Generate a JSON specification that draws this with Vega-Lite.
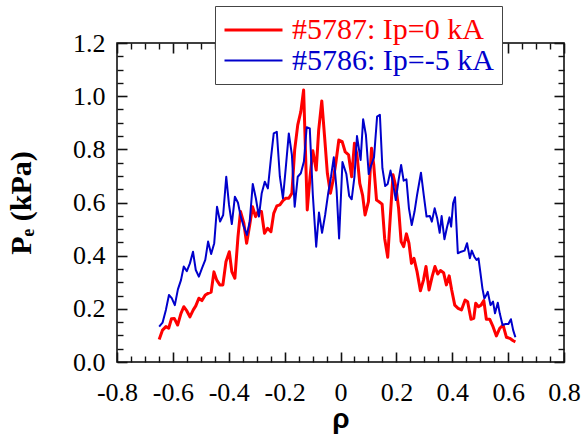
{
  "$schema": "https://vega.github.io/schema/vega-lite/v6.json",
  "width": 447,
  "height": 319,
  "autosize": "none",
  "padding": {"left": 117, "top": 43, "right": 23, "bottom": 72},
  "background": "white",
  "config": {
    "view": {"stroke": "#000000", "strokeWidth": 1.5},
    "font": "Liberation Serif"
  },
  "datasets": {
    "profiles": [
      {"shot": "#5787: Ip=0 kA", "rho": -0.649, "pe": 0.085},
      {"shot": "#5787: Ip=0 kA", "rho": -0.637, "pe": 0.12},
      {"shot": "#5787: Ip=0 kA", "rho": -0.625, "pe": 0.133},
      {"shot": "#5787: Ip=0 kA", "rho": -0.615, "pe": 0.127},
      {"shot": "#5787: Ip=0 kA", "rho": -0.605, "pe": 0.163},
      {"shot": "#5787: Ip=0 kA", "rho": -0.595, "pe": 0.164},
      {"shot": "#5787: Ip=0 kA", "rho": -0.583, "pe": 0.139},
      {"shot": "#5787: Ip=0 kA", "rho": -0.571, "pe": 0.183},
      {"shot": "#5787: Ip=0 kA", "rho": -0.561, "pe": 0.208},
      {"shot": "#5787: Ip=0 kA", "rho": -0.55, "pe": 0.192},
      {"shot": "#5787: Ip=0 kA", "rho": -0.539, "pe": 0.17},
      {"shot": "#5787: Ip=0 kA", "rho": -0.527, "pe": 0.196},
      {"shot": "#5787: Ip=0 kA", "rho": -0.518, "pe": 0.211},
      {"shot": "#5787: Ip=0 kA", "rho": -0.507, "pe": 0.24},
      {"shot": "#5787: Ip=0 kA", "rho": -0.496, "pe": 0.231},
      {"shot": "#5787: Ip=0 kA", "rho": -0.484, "pe": 0.252},
      {"shot": "#5787: Ip=0 kA", "rho": -0.474, "pe": 0.258},
      {"shot": "#5787: Ip=0 kA", "rho": -0.463, "pe": 0.263},
      {"shot": "#5787: Ip=0 kA", "rho": -0.453, "pe": 0.339},
      {"shot": "#5787: Ip=0 kA", "rho": -0.443, "pe": 0.308},
      {"shot": "#5787: Ip=0 kA", "rho": -0.432, "pe": 0.29},
      {"shot": "#5787: Ip=0 kA", "rho": -0.421, "pe": 0.29},
      {"shot": "#5787: Ip=0 kA", "rho": -0.41, "pe": 0.377},
      {"shot": "#5787: Ip=0 kA", "rho": -0.398, "pe": 0.415},
      {"shot": "#5787: Ip=0 kA", "rho": -0.389, "pe": 0.34},
      {"shot": "#5787: Ip=0 kA", "rho": -0.378, "pe": 0.315},
      {"shot": "#5787: Ip=0 kA", "rho": -0.367, "pe": 0.471},
      {"shot": "#5787: Ip=0 kA", "rho": -0.358, "pe": 0.566},
      {"shot": "#5787: Ip=0 kA", "rho": -0.346, "pe": 0.522},
      {"shot": "#5787: Ip=0 kA", "rho": -0.336, "pe": 0.447},
      {"shot": "#5787: Ip=0 kA", "rho": -0.325, "pe": 0.515},
      {"shot": "#5787: Ip=0 kA", "rho": -0.315, "pe": 0.584},
      {"shot": "#5787: Ip=0 kA", "rho": -0.304, "pe": 0.547},
      {"shot": "#5787: Ip=0 kA", "rho": -0.295, "pe": 0.566},
      {"shot": "#5787: Ip=0 kA", "rho": -0.283, "pe": 0.566},
      {"shot": "#5787: Ip=0 kA", "rho": -0.272, "pe": 0.484},
      {"shot": "#5787: Ip=0 kA", "rho": -0.261, "pe": 0.503},
      {"shot": "#5787: Ip=0 kA", "rho": -0.249, "pe": 0.49},
      {"shot": "#5787: Ip=0 kA", "rho": -0.239, "pe": 0.559},
      {"shot": "#5787: Ip=0 kA", "rho": -0.228, "pe": 0.587},
      {"shot": "#5787: Ip=0 kA", "rho": -0.217, "pe": 0.591},
      {"shot": "#5787: Ip=0 kA", "rho": -0.206, "pe": 0.607},
      {"shot": "#5787: Ip=0 kA", "rho": -0.196, "pe": 0.616},
      {"shot": "#5787: Ip=0 kA", "rho": -0.185, "pe": 0.616},
      {"shot": "#5787: Ip=0 kA", "rho": -0.174, "pe": 0.635},
      {"shot": "#5787: Ip=0 kA", "rho": -0.164, "pe": 0.798},
      {"shot": "#5787: Ip=0 kA", "rho": -0.153, "pe": 0.892},
      {"shot": "#5787: Ip=0 kA", "rho": -0.142, "pe": 0.942},
      {"shot": "#5787: Ip=0 kA", "rho": -0.132, "pe": 1.023},
      {"shot": "#5787: Ip=0 kA", "rho": -0.119, "pe": 0.572},
      {"shot": "#5787: Ip=0 kA", "rho": -0.109, "pe": 0.697},
      {"shot": "#5787: Ip=0 kA", "rho": -0.099, "pe": 0.795},
      {"shot": "#5787: Ip=0 kA", "rho": -0.087, "pe": 0.722},
      {"shot": "#5787: Ip=0 kA", "rho": -0.078, "pe": 0.873},
      {"shot": "#5787: Ip=0 kA", "rho": -0.067, "pe": 0.982},
      {"shot": "#5787: Ip=0 kA", "rho": -0.057, "pe": 0.848},
      {"shot": "#5787: Ip=0 kA", "rho": -0.047, "pe": 0.71},
      {"shot": "#5787: Ip=0 kA", "rho": -0.036, "pe": 0.635},
      {"shot": "#5787: Ip=0 kA", "rho": -0.025, "pe": 0.691},
      {"shot": "#5787: Ip=0 kA", "rho": -0.016, "pe": 0.754},
      {"shot": "#5787: Ip=0 kA", "rho": -0.006, "pe": 0.835},
      {"shot": "#5787: Ip=0 kA", "rho": 0.006, "pe": 0.829},
      {"shot": "#5787: Ip=0 kA", "rho": 0.017, "pe": 0.79},
      {"shot": "#5787: Ip=0 kA", "rho": 0.029, "pe": 0.779},
      {"shot": "#5787: Ip=0 kA", "rho": 0.04, "pe": 0.697},
      {"shot": "#5787: Ip=0 kA", "rho": 0.05, "pe": 0.823},
      {"shot": "#5787: Ip=0 kA", "rho": 0.059, "pe": 0.779},
      {"shot": "#5787: Ip=0 kA", "rho": 0.069, "pe": 0.672},
      {"shot": "#5787: Ip=0 kA", "rho": 0.079, "pe": 0.628},
      {"shot": "#5787: Ip=0 kA", "rho": 0.088, "pe": 0.553},
      {"shot": "#5787: Ip=0 kA", "rho": 0.1, "pe": 0.603},
      {"shot": "#5787: Ip=0 kA", "rho": 0.111, "pe": 0.804},
      {"shot": "#5787: Ip=0 kA", "rho": 0.119, "pe": 0.741},
      {"shot": "#5787: Ip=0 kA", "rho": 0.129, "pe": 0.609},
      {"shot": "#5787: Ip=0 kA", "rho": 0.138, "pe": 0.603},
      {"shot": "#5787: Ip=0 kA", "rho": 0.149, "pe": 0.594},
      {"shot": "#5787: Ip=0 kA", "rho": 0.158, "pe": 0.465},
      {"shot": "#5787: Ip=0 kA", "rho": 0.169, "pe": 0.394},
      {"shot": "#5787: Ip=0 kA", "rho": 0.179, "pe": 0.559},
      {"shot": "#5787: Ip=0 kA", "rho": 0.188, "pe": 0.704},
      {"shot": "#5787: Ip=0 kA", "rho": 0.198, "pe": 0.66},
      {"shot": "#5787: Ip=0 kA", "rho": 0.208, "pe": 0.578},
      {"shot": "#5787: Ip=0 kA", "rho": 0.217, "pe": 0.453},
      {"shot": "#5787: Ip=0 kA", "rho": 0.226, "pe": 0.434},
      {"shot": "#5787: Ip=0 kA", "rho": 0.236, "pe": 0.482},
      {"shot": "#5787: Ip=0 kA", "rho": 0.245, "pe": 0.447},
      {"shot": "#5787: Ip=0 kA", "rho": 0.254, "pe": 0.371},
      {"shot": "#5787: Ip=0 kA", "rho": 0.263, "pe": 0.39},
      {"shot": "#5787: Ip=0 kA", "rho": 0.274, "pe": 0.34},
      {"shot": "#5787: Ip=0 kA", "rho": 0.286, "pe": 0.268},
      {"shot": "#5787: Ip=0 kA", "rho": 0.297, "pe": 0.308},
      {"shot": "#5787: Ip=0 kA", "rho": 0.306, "pe": 0.359},
      {"shot": "#5787: Ip=0 kA", "rho": 0.317, "pe": 0.271},
      {"shot": "#5787: Ip=0 kA", "rho": 0.328, "pe": 0.321},
      {"shot": "#5787: Ip=0 kA", "rho": 0.338, "pe": 0.359},
      {"shot": "#5787: Ip=0 kA", "rho": 0.348, "pe": 0.331},
      {"shot": "#5787: Ip=0 kA", "rho": 0.358, "pe": 0.344},
      {"shot": "#5787: Ip=0 kA", "rho": 0.369, "pe": 0.336},
      {"shot": "#5787: Ip=0 kA", "rho": 0.379, "pe": 0.29},
      {"shot": "#5787: Ip=0 kA", "rho": 0.389, "pe": 0.324},
      {"shot": "#5787: Ip=0 kA", "rho": 0.398, "pe": 0.271},
      {"shot": "#5787: Ip=0 kA", "rho": 0.409, "pe": 0.214},
      {"shot": "#5787: Ip=0 kA", "rho": 0.421, "pe": 0.202},
      {"shot": "#5787: Ip=0 kA", "rho": 0.433, "pe": 0.196},
      {"shot": "#5787: Ip=0 kA", "rho": 0.446, "pe": 0.233},
      {"shot": "#5787: Ip=0 kA", "rho": 0.455, "pe": 0.227},
      {"shot": "#5787: Ip=0 kA", "rho": 0.467, "pe": 0.161},
      {"shot": "#5787: Ip=0 kA", "rho": 0.477, "pe": 0.164},
      {"shot": "#5787: Ip=0 kA", "rho": 0.484, "pe": 0.221},
      {"shot": "#5787: Ip=0 kA", "rho": 0.494, "pe": 0.208},
      {"shot": "#5787: Ip=0 kA", "rho": 0.503, "pe": 0.214},
      {"shot": "#5787: Ip=0 kA", "rho": 0.513, "pe": 0.231},
      {"shot": "#5787: Ip=0 kA", "rho": 0.522, "pe": 0.161},
      {"shot": "#5787: Ip=0 kA", "rho": 0.534, "pe": 0.161},
      {"shot": "#5787: Ip=0 kA", "rho": 0.546, "pe": 0.133},
      {"shot": "#5787: Ip=0 kA", "rho": 0.558, "pe": 0.098},
      {"shot": "#5787: Ip=0 kA", "rho": 0.57, "pe": 0.127},
      {"shot": "#5787: Ip=0 kA", "rho": 0.582, "pe": 0.139},
      {"shot": "#5787: Ip=0 kA", "rho": 0.594, "pe": 0.093},
      {"shot": "#5787: Ip=0 kA", "rho": 0.606, "pe": 0.089},
      {"shot": "#5787: Ip=0 kA", "rho": 0.618, "pe": 0.08},
      {"shot": "#5787: Ip=0 kA", "rho": 0.626, "pe": 0.076},
      {"shot": "#5786: Ip=-5 kA", "rho": -0.649, "pe": 0.133},
      {"shot": "#5786: Ip=-5 kA", "rho": -0.637, "pe": 0.148},
      {"shot": "#5786: Ip=-5 kA", "rho": -0.625, "pe": 0.196},
      {"shot": "#5786: Ip=-5 kA", "rho": -0.614, "pe": 0.252},
      {"shot": "#5786: Ip=-5 kA", "rho": -0.604, "pe": 0.24},
      {"shot": "#5786: Ip=-5 kA", "rho": -0.593, "pe": 0.214},
      {"shot": "#5786: Ip=-5 kA", "rho": -0.582, "pe": 0.273},
      {"shot": "#5786: Ip=-5 kA", "rho": -0.571, "pe": 0.308},
      {"shot": "#5786: Ip=-5 kA", "rho": -0.561, "pe": 0.359},
      {"shot": "#5786: Ip=-5 kA", "rho": -0.55, "pe": 0.342},
      {"shot": "#5786: Ip=-5 kA", "rho": -0.539, "pe": 0.371},
      {"shot": "#5786: Ip=-5 kA", "rho": -0.528, "pe": 0.415},
      {"shot": "#5786: Ip=-5 kA", "rho": -0.518, "pe": 0.346},
      {"shot": "#5786: Ip=-5 kA", "rho": -0.507, "pe": 0.321},
      {"shot": "#5786: Ip=-5 kA", "rho": -0.496, "pe": 0.352},
      {"shot": "#5786: Ip=-5 kA", "rho": -0.484, "pe": 0.384},
      {"shot": "#5786: Ip=-5 kA", "rho": -0.474, "pe": 0.453},
      {"shot": "#5786: Ip=-5 kA", "rho": -0.463, "pe": 0.406},
      {"shot": "#5786: Ip=-5 kA", "rho": -0.452, "pe": 0.447},
      {"shot": "#5786: Ip=-5 kA", "rho": -0.442, "pe": 0.584},
      {"shot": "#5786: Ip=-5 kA", "rho": -0.431, "pe": 0.528},
      {"shot": "#5786: Ip=-5 kA", "rho": -0.42, "pe": 0.553},
      {"shot": "#5786: Ip=-5 kA", "rho": -0.409, "pe": 0.697},
      {"shot": "#5786: Ip=-5 kA", "rho": -0.399, "pe": 0.591},
      {"shot": "#5786: Ip=-5 kA", "rho": -0.389, "pe": 0.519},
      {"shot": "#5786: Ip=-5 kA", "rho": -0.378, "pe": 0.622},
      {"shot": "#5786: Ip=-5 kA", "rho": -0.367, "pe": 0.599},
      {"shot": "#5786: Ip=-5 kA", "rho": -0.357, "pe": 0.547},
      {"shot": "#5786: Ip=-5 kA", "rho": -0.346, "pe": 0.509},
      {"shot": "#5786: Ip=-5 kA", "rho": -0.335, "pe": 0.478},
      {"shot": "#5786: Ip=-5 kA", "rho": -0.325, "pe": 0.528},
      {"shot": "#5786: Ip=-5 kA", "rho": -0.314, "pe": 0.67},
      {"shot": "#5786: Ip=-5 kA", "rho": -0.303, "pe": 0.616},
      {"shot": "#5786: Ip=-5 kA", "rho": -0.292, "pe": 0.547},
      {"shot": "#5786: Ip=-5 kA", "rho": -0.282, "pe": 0.635},
      {"shot": "#5786: Ip=-5 kA", "rho": -0.271, "pe": 0.678},
      {"shot": "#5786: Ip=-5 kA", "rho": -0.26, "pe": 0.653},
      {"shot": "#5786: Ip=-5 kA", "rho": -0.249, "pe": 0.766},
      {"shot": "#5786: Ip=-5 kA", "rho": -0.239, "pe": 0.86},
      {"shot": "#5786: Ip=-5 kA", "rho": -0.228, "pe": 0.866},
      {"shot": "#5786: Ip=-5 kA", "rho": -0.217, "pe": 0.697},
      {"shot": "#5786: Ip=-5 kA", "rho": -0.206, "pe": 0.616},
      {"shot": "#5786: Ip=-5 kA", "rho": -0.196, "pe": 0.729},
      {"shot": "#5786: Ip=-5 kA", "rho": -0.185, "pe": 0.86},
      {"shot": "#5786: Ip=-5 kA", "rho": -0.174, "pe": 0.779},
      {"shot": "#5786: Ip=-5 kA", "rho": -0.164, "pe": 0.584},
      {"shot": "#5786: Ip=-5 kA", "rho": -0.153, "pe": 0.697},
      {"shot": "#5786: Ip=-5 kA", "rho": -0.142, "pe": 0.71},
      {"shot": "#5786: Ip=-5 kA", "rho": -0.131, "pe": 0.754},
      {"shot": "#5786: Ip=-5 kA", "rho": -0.121, "pe": 0.883},
      {"shot": "#5786: Ip=-5 kA", "rho": -0.11, "pe": 0.879},
      {"shot": "#5786: Ip=-5 kA", "rho": -0.099, "pe": 0.628},
      {"shot": "#5786: Ip=-5 kA", "rho": -0.087, "pe": 0.434},
      {"shot": "#5786: Ip=-5 kA", "rho": -0.077, "pe": 0.562},
      {"shot": "#5786: Ip=-5 kA", "rho": -0.066, "pe": 0.486},
      {"shot": "#5786: Ip=-5 kA", "rho": -0.055, "pe": 0.553},
      {"shot": "#5786: Ip=-5 kA", "rho": -0.044, "pe": 0.635},
      {"shot": "#5786: Ip=-5 kA", "rho": -0.034, "pe": 0.697},
      {"shot": "#5786: Ip=-5 kA", "rho": -0.024, "pe": 0.77},
      {"shot": "#5786: Ip=-5 kA", "rho": -0.014, "pe": 0.647},
      {"shot": "#5786: Ip=-5 kA", "rho": -0.005, "pe": 0.465},
      {"shot": "#5786: Ip=-5 kA", "rho": 0.007, "pe": 0.752},
      {"shot": "#5786: Ip=-5 kA", "rho": 0.021, "pe": 0.707},
      {"shot": "#5786: Ip=-5 kA", "rho": 0.031, "pe": 0.625},
      {"shot": "#5786: Ip=-5 kA", "rho": 0.04, "pe": 0.612},
      {"shot": "#5786: Ip=-5 kA", "rho": 0.05, "pe": 0.697},
      {"shot": "#5786: Ip=-5 kA", "rho": 0.059, "pe": 0.85},
      {"shot": "#5786: Ip=-5 kA", "rho": 0.072, "pe": 0.76},
      {"shot": "#5786: Ip=-5 kA", "rho": 0.081, "pe": 0.913},
      {"shot": "#5786: Ip=-5 kA", "rho": 0.091, "pe": 0.854},
      {"shot": "#5786: Ip=-5 kA", "rho": 0.101, "pe": 0.707},
      {"shot": "#5786: Ip=-5 kA", "rho": 0.11, "pe": 0.741},
      {"shot": "#5786: Ip=-5 kA", "rho": 0.12, "pe": 0.77},
      {"shot": "#5786: Ip=-5 kA", "rho": 0.131, "pe": 0.923},
      {"shot": "#5786: Ip=-5 kA", "rho": 0.141, "pe": 0.93},
      {"shot": "#5786: Ip=-5 kA", "rho": 0.15, "pe": 0.729},
      {"shot": "#5786: Ip=-5 kA", "rho": 0.16, "pe": 0.662},
      {"shot": "#5786: Ip=-5 kA", "rho": 0.169, "pe": 0.67},
      {"shot": "#5786: Ip=-5 kA", "rho": 0.179, "pe": 0.72},
      {"shot": "#5786: Ip=-5 kA", "rho": 0.188, "pe": 0.672},
      {"shot": "#5786: Ip=-5 kA", "rho": 0.198, "pe": 0.609},
      {"shot": "#5786: Ip=-5 kA", "rho": 0.208, "pe": 0.685},
      {"shot": "#5786: Ip=-5 kA", "rho": 0.217, "pe": 0.741},
      {"shot": "#5786: Ip=-5 kA", "rho": 0.226, "pe": 0.682},
      {"shot": "#5786: Ip=-5 kA", "rho": 0.236, "pe": 0.687},
      {"shot": "#5786: Ip=-5 kA", "rho": 0.245, "pe": 0.578},
      {"shot": "#5786: Ip=-5 kA", "rho": 0.255, "pe": 0.515},
      {"shot": "#5786: Ip=-5 kA", "rho": 0.265, "pe": 0.566},
      {"shot": "#5786: Ip=-5 kA", "rho": 0.274, "pe": 0.628},
      {"shot": "#5786: Ip=-5 kA", "rho": 0.288, "pe": 0.712},
      {"shot": "#5786: Ip=-5 kA", "rho": 0.298, "pe": 0.628},
      {"shot": "#5786: Ip=-5 kA", "rho": 0.308, "pe": 0.547},
      {"shot": "#5786: Ip=-5 kA", "rho": 0.32, "pe": 0.549},
      {"shot": "#5786: Ip=-5 kA", "rho": 0.327, "pe": 0.528},
      {"shot": "#5786: Ip=-5 kA", "rho": 0.337, "pe": 0.578},
      {"shot": "#5786: Ip=-5 kA", "rho": 0.346, "pe": 0.541},
      {"shot": "#5786: Ip=-5 kA", "rho": 0.355, "pe": 0.486},
      {"shot": "#5786: Ip=-5 kA", "rho": 0.362, "pe": 0.549},
      {"shot": "#5786: Ip=-5 kA", "rho": 0.372, "pe": 0.462},
      {"shot": "#5786: Ip=-5 kA", "rho": 0.381, "pe": 0.506},
      {"shot": "#5786: Ip=-5 kA", "rho": 0.39, "pe": 0.544},
      {"shot": "#5786: Ip=-5 kA", "rho": 0.396, "pe": 0.509},
      {"shot": "#5786: Ip=-5 kA", "rho": 0.403, "pe": 0.597},
      {"shot": "#5786: Ip=-5 kA", "rho": 0.41, "pe": 0.62},
      {"shot": "#5786: Ip=-5 kA", "rho": 0.42, "pe": 0.409},
      {"shot": "#5786: Ip=-5 kA", "rho": 0.432, "pe": 0.415},
      {"shot": "#5786: Ip=-5 kA", "rho": 0.444, "pe": 0.419},
      {"shot": "#5786: Ip=-5 kA", "rho": 0.453, "pe": 0.447},
      {"shot": "#5786: Ip=-5 kA", "rho": 0.463, "pe": 0.39},
      {"shot": "#5786: Ip=-5 kA", "rho": 0.47, "pe": 0.419},
      {"shot": "#5786: Ip=-5 kA", "rho": 0.479, "pe": 0.396},
      {"shot": "#5786: Ip=-5 kA", "rho": 0.487, "pe": 0.384},
      {"shot": "#5786: Ip=-5 kA", "rho": 0.494, "pe": 0.39},
      {"shot": "#5786: Ip=-5 kA", "rho": 0.501, "pe": 0.334},
      {"shot": "#5786: Ip=-5 kA", "rho": 0.508, "pe": 0.277},
      {"shot": "#5786: Ip=-5 kA", "rho": 0.515, "pe": 0.239},
      {"shot": "#5786: Ip=-5 kA", "rho": 0.52, "pe": 0.248},
      {"shot": "#5786: Ip=-5 kA", "rho": 0.527, "pe": 0.264},
      {"shot": "#5786: Ip=-5 kA", "rho": 0.537, "pe": 0.214},
      {"shot": "#5786: Ip=-5 kA", "rho": 0.546, "pe": 0.227},
      {"shot": "#5786: Ip=-5 kA", "rho": 0.553, "pe": 0.183},
      {"shot": "#5786: Ip=-5 kA", "rho": 0.563, "pe": 0.223},
      {"shot": "#5786: Ip=-5 kA", "rho": 0.57, "pe": 0.183},
      {"shot": "#5786: Ip=-5 kA", "rho": 0.58, "pe": 0.139},
      {"shot": "#5786: Ip=-5 kA", "rho": 0.591, "pe": 0.143},
      {"shot": "#5786: Ip=-5 kA", "rho": 0.601, "pe": 0.143},
      {"shot": "#5786: Ip=-5 kA", "rho": 0.61, "pe": 0.161},
      {"shot": "#5786: Ip=-5 kA", "rho": 0.618, "pe": 0.12},
      {"shot": "#5786: Ip=-5 kA", "rho": 0.626, "pe": 0.093}
    ]
  },
  "data": {"name": "profiles"},
  "layer": [
    {
      "mark": {"type": "line", "strokeJoin": "round"},
      "encoding": {
        "x": {
          "field": "rho", "type": "quantitative",
          "scale": {"domain": [-0.8, 0.8], "nice": false, "zero": false},
          "axis": {
            "orient": "bottom",
            "values": [-0.8, -0.6, -0.4, -0.2, 0, 0.2, 0.4, 0.6, 0.8],
            "domain": false, "grid": false, "zindex": 3,
            "offset": -10,
            "ticks": true, "tickSize": 10, "tickColor": "#111111", "tickWidth": 1.6, "tickOpacity": 1,
            "labelFont": "Liberation Serif", "labelFontSize": 26, "labelColor": "#000000",
            "labelPadding": 17,
            "labelFlush": false,
            "labelOverlap": false,
            "labelExpr": "datum.value == 0 ? '0' : (datum.value < 0 ? '-' : '') + format(abs(datum.value), '.1f')",
            "title": "ρ",
            "titleFont": "Liberation Sans",
            "titleFontWeight": "bold",
            "titleFontSize": 28,
            "titleColor": "#000000",
            "titlePadding": 0
          }
        },
        "y": {
          "field": "pe", "type": "quantitative",
          "scale": {"domain": [0, 1.2], "nice": false, "zero": false},
          "axis": {
            "orient": "left",
            "values": [0, 0.2, 0.4, 0.6, 0.8, 1.0, 1.2],
            "domain": false, "grid": false, "zindex": 3,
            "ticks": true, "tickSize": -10, "tickColor": "#111111", "tickWidth": 1.6, "tickOpacity": 1,
            "labelFont": "Liberation Serif", "labelFontSize": 26, "labelColor": "#000000",
            "labelPadding": 22,
            "labelFlush": false,
            "labelOverlap": false,
            "format": ".1f",
            "title": "Pₑ (kPa)",
            "titleFont": "Liberation Serif",
            "titleFontWeight": "bold",
            "titleFontSize": 30,
            "titleColor": "#000000",
            "titlePadding": 36
          }
        },
        "color": {
          "field": "shot", "type": "nominal", "sort": null,
          "scale": {"domain": ["#5787: Ip=0 kA", "#5786: Ip=-5 kA"], "range": ["#ff0000", "#0000cc"]},
          "legend": {
            "orient": "none",
            "legendX": 98,
            "legendY": -37,
            "zindex": 6,
            "title": null,
            "padding": 8,
            "fillColor": "#ffffff",
            "strokeColor": "#444444",
            "symbolType": "M-1,0H3",
            "symbolSize": 841,
            "labelFont": "Liberation Serif",
            "labelFontSize": 30,
            "labelOffset": 37,
            "labelLimit": 0,
            "rowPadding": 0,
            "encode": {"labels": {"update": {"fill": {"scale": "color", "field": "value"}}}}
          }
        },
        "strokeWidth": {
          "field": "shot", "type": "nominal", "sort": null,
          "scale": {"domain": ["#5787: Ip=0 kA", "#5786: Ip=-5 kA"], "range": [3, 2]},
          "legend": null
        }
      }
    },
    {
      "mark": {"type": "point", "opacity": 0},
      "encoding": {
        "x": {"field": "rho", "type": "quantitative",
          "axis": {"orient": "top", "values": [-0.8, -0.6, -0.4, -0.2, 0, 0.2, 0.4, 0.6, 0.8], "domain": false, "grid": false, "zindex": 3, "offset": -10, "ticks": true, "tickSize": 10, "tickColor": "#111111", "tickWidth": 1.6, "labels": false, "title": null}},
        "y": {"field": "pe", "type": "quantitative",
          "axis": {"orient": "right", "values": [0, 0.2, 0.4, 0.6, 0.8, 1.0, 1.2], "domain": false, "grid": false, "zindex": 3, "offset": -10, "ticks": true, "tickSize": 10, "tickColor": "#111111", "tickWidth": 1.6, "labels": false, "title": null}}
      }
    },
    {
      "mark": {"type": "point", "opacity": 0},
      "encoding": {
        "x": {"field": "rho", "type": "quantitative",
          "axis": {"orient": "bottom", "values": [-0.75, -0.7, -0.65, -0.55, -0.5, -0.45, -0.35, -0.3, -0.25, -0.15, -0.1, -0.05, 0.05, 0.1, 0.15, 0.25, 0.3, 0.35, 0.45, 0.5, 0.55, 0.65, 0.7, 0.75], "domain": false, "grid": false, "zindex": 3, "offset": -6, "ticks": true, "tickSize": 6, "tickColor": "#111111", "tickWidth": 1.4, "labels": false, "title": null}},
        "y": {"field": "pe", "type": "quantitative",
          "axis": {"orient": "left", "values": [0.05, 0.1, 0.15, 0.25, 0.3, 0.35, 0.45, 0.5, 0.55, 0.65, 0.7, 0.75, 0.85, 0.9, 0.95, 1.05, 1.1, 1.15], "domain": false, "grid": false, "zindex": 3, "offset": -6, "ticks": true, "tickSize": 6, "tickColor": "#111111", "tickWidth": 1.4, "labels": false, "title": null}}
      }
    },
    {
      "mark": {"type": "point", "opacity": 0},
      "encoding": {
        "x": {"field": "rho", "type": "quantitative",
          "axis": {"orient": "top", "values": [-0.75, -0.7, -0.65, -0.55, -0.5, -0.45, -0.35, -0.3, -0.25, -0.15, -0.1, -0.05, 0.05, 0.1, 0.15, 0.25, 0.3, 0.35, 0.45, 0.5, 0.55, 0.65, 0.7, 0.75], "domain": false, "grid": false, "zindex": 3, "offset": -6, "ticks": true, "tickSize": 6, "tickColor": "#111111", "tickWidth": 1.4, "labels": false, "title": null}},
        "y": {"field": "pe", "type": "quantitative",
          "axis": {"orient": "right", "values": [0.05, 0.1, 0.15, 0.25, 0.3, 0.35, 0.45, 0.5, 0.55, 0.65, 0.7, 0.75, 0.85, 0.9, 0.95, 1.05, 1.1, 1.15], "domain": false, "grid": false, "zindex": 3, "offset": -6, "ticks": true, "tickSize": 6, "tickColor": "#111111", "tickWidth": 1.4, "labels": false, "title": null}}
      }
    }
  ],
  "resolve": {"axis": {"x": "independent", "y": "independent"}}
}
